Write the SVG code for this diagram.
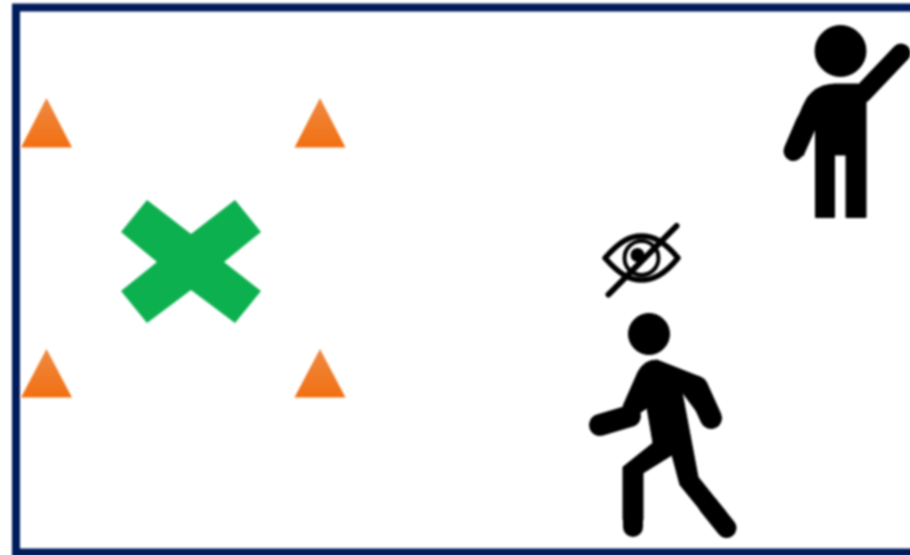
<svg xmlns="http://www.w3.org/2000/svg" width="910" height="555" viewBox="0 0 910 555">
<style>
.k{fill:#000;stroke:#000;stroke-width:1;stroke-linejoin:round}
.l{fill:none;stroke:#000;stroke-linecap:round;stroke-linejoin:round}
.t{fill:url(#og)}
</style>
<defs>
<linearGradient id="og" x1="0" y1="0" x2="0" y2="1"><stop offset="0" stop-color="#ee8a42"/><stop offset="1" stop-color="#f26f12"/></linearGradient>
<filter id="b" filterUnits="userSpaceOnUse" x="0" y="0" width="910" height="555"><feGaussianBlur stdDeviation="0.8"/></filter>
</defs>
<rect width="910" height="555" fill="#fff"/>
<g filter="url(#b)">
<g id="frame"><path d="M920 7.500H16V552.500H920" fill="none" stroke="#061f5c" stroke-width="8"/></g>
<g id="cone1"><path class="t" d="M46.500 98L72 147.500H21z"/></g>
<g id="cone2"><path class="t" d="M320 98L345.500 147.500H294.500z"/></g>
<g id="cone3"><path class="t" d="M46.500 349L72 397.500H21z"/></g>
<g id="cone4"><path class="t" d="M320 349L345.500 397.500H294.500z"/></g>
<g id="cross"><path fill="#0ab050" d="M147 200L191 234L235 200L261 232L224 262L261 291L235 323L191 290L147 323L121 291L157 262L121 232z"/></g>
<g id="person-raised">
<circle class="k" cx="840.500" cy="51" r="25.500"/>
<path class="k" d="M815.500 217.500V128L803 156L786 146L803 106Q811 85 834 84H858L866 90V217.500H846V155H834.500V217.500z"/>
<path class="l" d="M793.500 151L806 122" stroke-width="20"/>
<path class="l" d="M862 94L901 53" stroke-width="19"/>
</g>
<g id="eye-crossed">
<path d="M605 258C620 241 630 236 641.500 236C653 236 664 241 678 258C664 275 653 280 641.500 280C630 280 620 275 605 258z" fill="none" stroke="#000" stroke-width="5.500" stroke-linejoin="round"/>
<circle cx="641.500" cy="258" r="17" fill="none" stroke="#000" stroke-width="4"/>
<circle cx="637.500" cy="255" r="7" fill="#000"/>
<path d="M676.500 226L608.500 294.500" fill="none" stroke="#000" stroke-width="6" stroke-linecap="round"/>
</g>
<g id="person-walking">
<circle class="k" cx="649" cy="334" r="20.500"/>
<path class="k" d="M657 360L700 377L704 400L703 420L682 392L698 477L726 512L720 534L680 485L672 455L643 473V520H623V467L653 443L647 408L632 418L623 406L638 372Q644 360 657 360z"/>
<path class="l" d="M711 418L697 387" stroke-width="22"/>
<path class="l" d="M600 425L630 416" stroke-width="22"/>
<path class="l" d="M633 527V505" stroke-width="20"/>
<path class="l" d="M726.500 528L708 505" stroke-width="20"/>
</g>
</g>
</svg>
